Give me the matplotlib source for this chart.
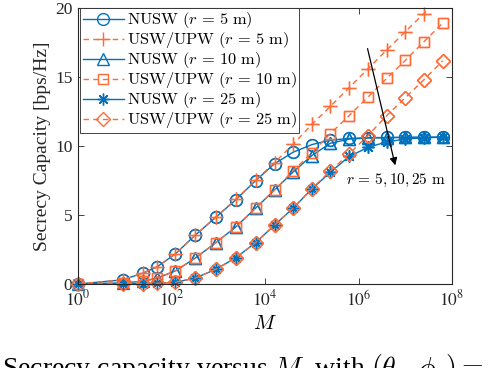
import numpy as np
import matplotlib
matplotlib.use('Agg')
import matplotlib.pyplot as plt
from matplotlib.ticker import FixedLocator, NullLocator, FuncFormatter
from matplotlib.font_manager import FontProperties

plt.rcParams['font.family'] = 'Liberation Serif'
plt.rcParams['mathtext.fontset'] = 'stix'

# number of antennas M (x axis, log scale)
M = [1, 9, 25, 49, 121, 317, 891, 2400, 6300, 1.6e4, 4e4, 1e5, 2.5e5,
     6.3e5, 1.6e6, 4e6, 1e7, 2.5e7, 6.3e7]

# secrecy capacity [bps/Hz]
nusw_5 = [0, 0.30, 0.80, 1.24, 2.18, 3.52, 4.84, 6.12, 7.49, 8.72, 9.55,
          10.1, 10.42, 10.55, 10.6, 10.62, 10.63, 10.63, 10.64]
usw_5 = [0, 0.30, 0.80, 1.24, 2.18, 3.52, 4.86, 6.15, 7.52, 8.8, 10.12,
         11.56, 12.87, 14.23, 15.6, 16.95, 18.28, 19.6, 20.95]
nusw_10 = [0, 0.08, 0.2, 0.43, 0.95, 1.86, 3.0, 4.15, 5.5, 6.81, 8.12,
           9.3, 10.2, 10.5, 10.58, 10.6, 10.62, 10.63, 10.64]
usw_10 = [0, 0.08, 0.2, 0.43, 0.95, 1.86, 3.0, 4.15, 5.5, 6.81, 8.22,
          9.5, 10.9, 12.2, 13.55, 14.9, 16.2, 17.55, 18.9]
nusw_25 = [0, 0.02, 0.03, 0.05, 0.13, 0.42, 1.07, 1.91, 3.0, 4.27, 5.5,
           6.88, 8.1, 9.24, 9.9, 10.3, 10.5, 10.6, 10.63]
usw_25 = [0, 0.02, 0.03, 0.05, 0.13, 0.42, 1.07, 1.91, 3.0, 4.27, 5.5,
          6.9, 8.2, 9.43, 10.76, 12.2, 13.5, 14.8, 16.17]

blue = '#0072BD'
orange = '#FF6A35'
asterisk = (8, 2, 0)

series = [
    (nusw_5, blue, '-', 'o', r'$\mathrm{NUSW}\ (r\,=\,5\ \mathrm{m})$'),
    (usw_5, orange, '--', '+', r'$\mathrm{USW/UPW}\ (r\,=\,5\ \mathrm{m})$'),
    (nusw_10, blue, '-', '^', r'$\mathrm{NUSW}\ (r\,=\,10\ \mathrm{m})$'),
    (usw_10, orange, '--', 's', r'$\mathrm{USW/UPW}\ (r\,=\,10\ \mathrm{m})$'),
    (nusw_25, blue, '-', asterisk, r'$\mathrm{NUSW}\ (r\,=\,25\ \mathrm{m})$'),
    (usw_25, orange, '--', 'D', r'$\mathrm{USW/UPW}\ (r\,=\,25\ \mathrm{m})$'),
]
msizes = [8.5, 9.5, 8.5, 7.5, 8.5, 7]

fig = plt.figure(figsize=(4.88, 3.68), dpi=100)
ax = fig.add_axes([78/488, 1-284/368, 374/488, 276/368])

handles = []
for (y, c, ls, mk, lab), ms in zip(series, msizes):
    h, = ax.plot(M, y, color=c, ls=ls, marker=mk, ms=ms,
                 mfc='none', mec=c, lw=1.0, mew=1.0, label=lab,
                 dashes=(4, 3) if ls == '--' else (None, None))
    handles.append(h)
    # markers on the bottom edge are not clipped
    yy = np.array(y)
    keep = yy <= 20
    ax.plot(np.array(M)[keep], yy[keep], ls='none', marker=mk, ms=ms,
            mfc='none', mec=c, mew=1.0, clip_on=False)

ax.set_xscale('log')
ax.set_xlim(1, 1e8)
ax.set_ylim(0, 20)
ax.xaxis.set_major_locator(FixedLocator([1, 1e2, 1e4, 1e6, 1e8]))
ax.xaxis.set_minor_locator(NullLocator())
ax.xaxis.set_major_formatter(FuncFormatter(lambda v, p: r'$10^{%d}$' % round(np.log10(v))))
ax.set_yticks([0, 5, 10, 15, 20])

for s in ax.spines.values():
    s.set_color('#262626')
    s.set_linewidth(0.8)
ax.tick_params(direction='in', top=True, right=True, length=4, width=0.6,
               labelsize=12.5, colors='#262626', pad=4)

ax.set_xlabel(r'$M$', fontsize=15, math_fontfamily='cm', labelpad=4)
ax.set_ylabel('Secrecy Capacity [bps/Hz]', fontsize=14, color='#262626', labelpad=3)

leg = ax.legend(handles=handles, loc='upper left', bbox_to_anchor=(0.006, 1.0),
                prop=FontProperties(size=11.8, math_fontfamily='cm'),
                handlelength=2.5, handletextpad=0.2, labelspacing=0.0,
                borderpad=0.15, borderaxespad=0, fancybox=False, framealpha=1)
leg.get_frame().set_edgecolor('#262626')
leg.get_frame().set_linewidth(0.6)

ax.annotate('', xy=(10**6.8, 8.4), xytext=(10**6.18, 17.25),
            arrowprops=dict(arrowstyle='-|>', color='k', lw=0.9, mutation_scale=11))
ax.text(10**7.86, 7.5, r'$r\,=\,5, 10, 25\ \mathrm{m}$', fontsize=11,
        math_fontfamily='cm', ha='right', va='center')

fig.text(0.004, -0.022, r'Secrecy capacity versus $M$, with $(\theta_e, \phi_e) =$',
         fontsize=20, ha='left', va='baseline', math_fontfamily='cm')

fig.savefig('out.png', dpi=100)
